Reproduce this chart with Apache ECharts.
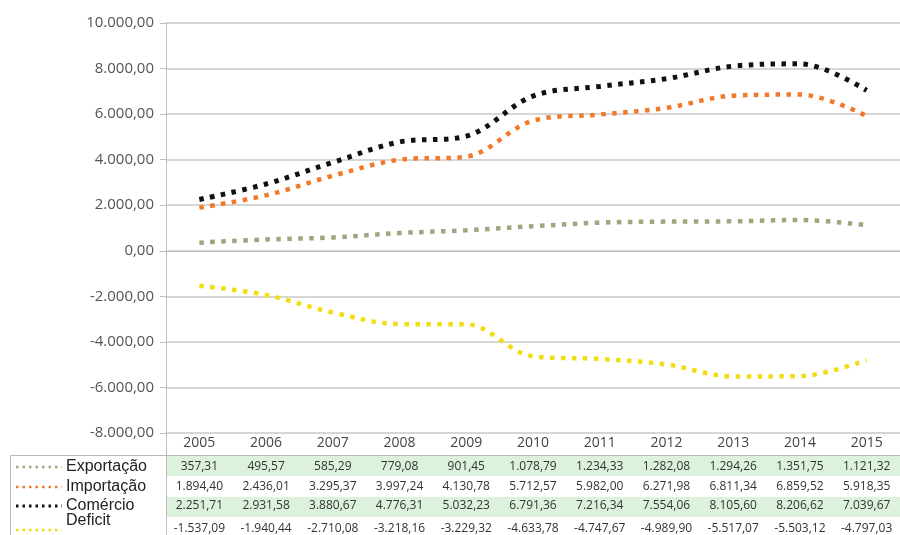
<!DOCTYPE html>
<html>
<head>
<meta charset="utf-8">
<script src="https://cdn.jsdelivr.net/npm/echarts@6/dist/echarts.min.js"></script>
<style>
  html, body { margin: 0; padding: 0; background: #fff; }
  #main { width: 900px; height: 535px; }
</style>
</head>
<body>
<div id="main"></div>
<script>
// dados
var anos = ['2005', '2006', '2007', '2008', '2009', '2010', '2011', '2012', '2013', '2014', '2015'];
var exportacao = [357.31, 495.57, 585.29, 779.08, 901.45, 1078.79, 1234.33, 1282.08, 1294.26, 1351.75, 1121.32];
var importacao = [1894.40, 2436.01, 3295.37, 3997.24, 4130.78, 5712.57, 5982.00, 6271.98, 6811.34, 6859.52, 5918.35];
var comercio = [2251.71, 2931.58, 3880.67, 4776.31, 5032.23, 6791.36, 7216.34, 7554.06, 8105.60, 8206.62, 7039.67];
var deficit = [-1537.09, -1940.44, -2710.08, -3218.16, -3229.32, -4633.78, -4747.67, -4989.90, -5517.07, -5503.12, -4797.03];

var nomes = ['Exportação', 'Importação', 'Comércio', 'Deficit'];
var cores = ['#9fa57c', '#f2782a', '#111111', '#f0de12'];
var valores = [exportacao, importacao, comercio, deficit];

// formato brasileiro 1.234,56
function fmt(v) {
    var neg = v < 0;
    var s = Math.abs(v).toFixed(2).split('.');
    var inteiro = s[0].replace(/\B(?=(\d{3})+(?!\d))/g, '.');
    return (neg ? '-' : '') + inteiro + ',' + s[1];
}

var myChart = echarts.init(document.getElementById('main'));

var series = nomes.map(function (n, i) {
    return {
        name: n,
        type: 'line',
        data: valores[i],
        smooth: 0.35,
        symbol: 'none',
        lineStyle: {
            color: cores[i],
            width: i == 2 ? 5 : 4.5,
            type: [4.5, 6.5],
            cap: 'butt'
        }
    };
});

option = {
    animation: false,
    grid: {left: 166, right: 0, top: 23, bottom: 102},
    xAxis: {
        type: 'category',
        data: anos,
        boundaryGap: true,
        axisLine: {show: true, lineStyle: {color: '#bdbdbd'}},
        axisTick: {show: false},
        axisLabel: {color: '#444', fontSize: 14, margin: 3, fontFamily: 'Open Sans'}
    },
    yAxis: {
        type: 'value',
        min: -8000,
        max: 10000,
        interval: 2000,
        axisLine: {show: true, lineStyle: {color: '#bdbdbd'}},
        axisTick: {show: true, length: 6, lineStyle: {color: '#bdbdbd'}},
        splitLine: {lineStyle: {color: '#c8c8c8', width: 1.5}},
        axisLabel: {
            color: '#555',
            fontSize: 15,
            margin: 12,
            fontFamily: 'Open Sans',
            formatter: function (v) { return fmt(v); }
        }
    },
    series: series
};
myChart.setOption(option);

// tabela de dados embaixo do grafico
var rowY = [455, 476, 496, 516];
var rowH = 20;
var textY = [467, 487, 506, 529];
var els = [];
els.push({
    type: 'rect', shape: {x: 10.5, y: 455.5, width: 900, height: 90},
    style: {fill: '#fff', stroke: '#b8b8b8', lineWidth: 1}, z: 0
});
[0, 2].forEach(function (r) {
    els.push({
        type: 'rect', shape: {x: 167, y: rowY[r] + 1, width: 733, height: rowH},
        style: {fill: '#dcf2dc'}, z: 1
    });
});
els.push({
    type: 'line', shape: {x1: 166.5, y1: 433, x2: 166.5, y2: 535},
    style: {stroke: '#bdbdbd', lineWidth: 1}, z: 2
});
nomes.forEach(function (n, r) {
    var ly = r == 3 ? 530 : textY[r];
    els.push({
        type: 'line', shape: {x1: 16, y1: ly, x2: 62, y2: ly},
        style: {stroke: cores[r], lineWidth: r == 2 ? 3 : 2.5, lineDash: [2.5, 4]}, z: 2
    });
    els.push({
        type: 'text', x: 66, y: r == 3 ? 521 : textY[r],
        style: {text: n, fill: '#222', font: '16px Liberation Sans', verticalAlign: 'middle'}, z: 2
    });
    valores[r].forEach(function (v, c) {
        var px = myChart.convertToPixel({xAxisIndex: 0}, c);
        els.push({
            type: 'text', x: px, y: textY[r],
            style: {
                text: fmt(v), fill: '#333', align: 'center', verticalAlign: 'middle',
                font: '12px "Liberation Sans Narrow", "Open Sans", sans-serif'
            }, z: 2
        });
    });
});
myChart.setOption({graphic: {elements: els}});
</script>
</body>
</html>
